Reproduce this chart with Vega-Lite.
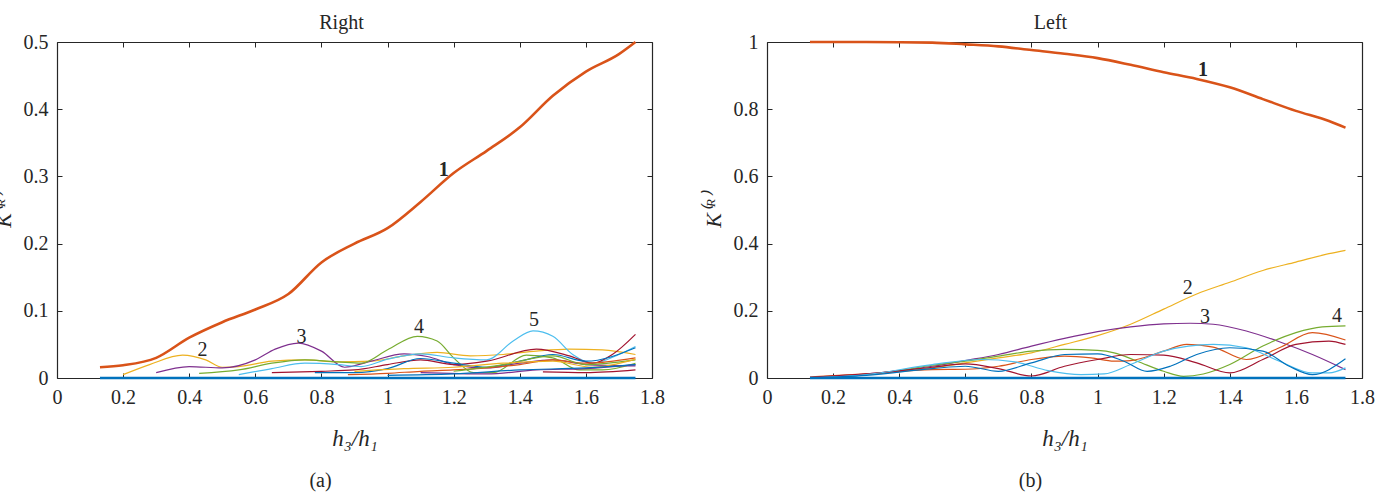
{
  "$schema": "https://vega.github.io/schema/vega-lite/v6.json",
  "autosize": {"type": "none"},
  "padding": {"left": 57, "top": 42, "right": 0, "bottom": 114},
  "params": [{"name": "width", "value": 1322}],
  "background": "white",
  "spacing": 115,
  "bounds": "flush",
  "config": {
    "font": "Liberation Serif",
    "view": {"stroke": null},
    "axis": {
      "grid": false,
      "domainColor": "#262626",
      "domainWidth": 1.2,
      "tickColor": "#262626",
      "tickWidth": 1,
      "tickSize": -5,
      "labelFont": "Liberation Serif",
      "labelFontSize": 20,
      "labelColor": "#262626",
      "labelPadding": 14,
      "labelFlush": false,
      "titleFont": "Liberation Serif",
      "titleFontSize": 20,
      "titleFontWeight": "normal",
      "titleColor": "#262626"
    },
    "title": {"font": "Liberation Serif", "fontSize": 20, "fontWeight": "normal", "color": "#262626"}
  },
  "datasets": {
    "lines": [
      {"p":"a","s":"zero","x":0.13,"y":0},{"p":"a","s":"zero","x":1.75,"y":0},
      {"p":"a","s":"1","x":0.13,"y":0.016},{"p":"a","s":"1","x":0.2,"y":0.019},{"p":"a","s":"1","x":0.3,"y":0.03},{"p":"a","s":"1","x":0.4,"y":0.06},{"p":"a","s":"1","x":0.5,"y":0.083},{"p":"a","s":"1","x":0.6,"y":0.102},{"p":"a","s":"1","x":0.7,"y":0.125},{"p":"a","s":"1","x":0.8,"y":0.172},{"p":"a","s":"1","x":0.9,"y":0.2},{"p":"a","s":"1","x":1.0,"y":0.223},{"p":"a","s":"1","x":1.1,"y":0.262},{"p":"a","s":"1","x":1.2,"y":0.305},{"p":"a","s":"1","x":1.3,"y":0.338},{"p":"a","s":"1","x":1.4,"y":0.373},{"p":"a","s":"1","x":1.5,"y":0.42},{"p":"a","s":"1","x":1.6,"y":0.456},{"p":"a","s":"1","x":1.7,"y":0.482},{"p":"a","s":"1","x":1.75,"y":0.5},
      {"p":"a","s":"2","x":0.2,"y":0.005},{"p":"a","s":"2","x":0.28,"y":0.02},{"p":"a","s":"2","x":0.38,"y":0.034},{"p":"a","s":"2","x":0.45,"y":0.027},{"p":"a","s":"2","x":0.5,"y":0.016},{"p":"a","s":"2","x":0.55,"y":0.017},{"p":"a","s":"2","x":0.65,"y":0.025},{"p":"a","s":"2","x":0.75,"y":0.027},{"p":"a","s":"2","x":0.85,"y":0.024},{"p":"a","s":"2","x":0.95,"y":0.025},{"p":"a","s":"2","x":1.05,"y":0.033},{"p":"a","s":"2","x":1.15,"y":0.038},{"p":"a","s":"2","x":1.25,"y":0.033},{"p":"a","s":"2","x":1.35,"y":0.035},{"p":"a","s":"2","x":1.45,"y":0.04},{"p":"a","s":"2","x":1.55,"y":0.043},{"p":"a","s":"2","x":1.65,"y":0.042},{"p":"a","s":"2","x":1.75,"y":0.035},
      {"p":"a","s":"3","x":0.3,"y":0.008},{"p":"a","s":"3","x":0.4,"y":0.017},{"p":"a","s":"3","x":0.5,"y":0.015},{"p":"a","s":"3","x":0.6,"y":0.027},{"p":"a","s":"3","x":0.66,"y":0.043},{"p":"a","s":"3","x":0.73,"y":0.052},{"p":"a","s":"3","x":0.8,"y":0.04},{"p":"a","s":"3","x":0.87,"y":0.016},{"p":"a","s":"3","x":0.95,"y":0.025},{"p":"a","s":"3","x":1.05,"y":0.036},{"p":"a","s":"3","x":1.12,"y":0.032},{"p":"a","s":"3","x":1.2,"y":0.02},{"p":"a","s":"3","x":1.3,"y":0.015},{"p":"a","s":"3","x":1.4,"y":0.022},{"p":"a","s":"3","x":1.5,"y":0.027},{"p":"a","s":"3","x":1.6,"y":0.02},{"p":"a","s":"3","x":1.75,"y":0.018},
      {"p":"a","s":"4","x":0.43,"y":0.007},{"p":"a","s":"4","x":0.55,"y":0.012},{"p":"a","s":"4","x":0.65,"y":0.022},{"p":"a","s":"4","x":0.75,"y":0.027},{"p":"a","s":"4","x":0.85,"y":0.024},{"p":"a","s":"4","x":0.92,"y":0.022},{"p":"a","s":"4","x":1.0,"y":0.042},{"p":"a","s":"4","x":1.09,"y":0.062},{"p":"a","s":"4","x":1.15,"y":0.055},{"p":"a","s":"4","x":1.2,"y":0.03},{"p":"a","s":"4","x":1.26,"y":0.008},{"p":"a","s":"4","x":1.32,"y":0.008},{"p":"a","s":"4","x":1.42,"y":0.034},{"p":"a","s":"4","x":1.5,"y":0.03},{"p":"a","s":"4","x":1.58,"y":0.012},{"p":"a","s":"4","x":1.65,"y":0.012},{"p":"a","s":"4","x":1.75,"y":0.022},
      {"p":"a","s":"5","x":0.55,"y":0.005},{"p":"a","s":"5","x":0.65,"y":0.014},{"p":"a","s":"5","x":0.75,"y":0.022},{"p":"a","s":"5","x":0.85,"y":0.02},{"p":"a","s":"5","x":0.92,"y":0.017},{"p":"a","s":"5","x":1.0,"y":0.028},{"p":"a","s":"5","x":1.1,"y":0.036},{"p":"a","s":"5","x":1.2,"y":0.03},{"p":"a","s":"5","x":1.3,"y":0.027},{"p":"a","s":"5","x":1.38,"y":0.055},{"p":"a","s":"5","x":1.44,"y":0.07},{"p":"a","s":"5","x":1.5,"y":0.062},{"p":"a","s":"5","x":1.56,"y":0.035},{"p":"a","s":"5","x":1.62,"y":0.022},{"p":"a","s":"5","x":1.7,"y":0.035},{"p":"a","s":"5","x":1.75,"y":0.047},
      {"p":"a","s":"dred","x":0.65,"y":0.008},{"p":"a","s":"dred","x":0.8,"y":0.01},{"p":"a","s":"dred","x":0.9,"y":0.012},{"p":"a","s":"dred","x":1.0,"y":0.02},{"p":"a","s":"dred","x":1.1,"y":0.027},{"p":"a","s":"dred","x":1.2,"y":0.02},{"p":"a","s":"dred","x":1.3,"y":0.025},{"p":"a","s":"dred","x":1.45,"y":0.043},{"p":"a","s":"dred","x":1.55,"y":0.033},{"p":"a","s":"dred","x":1.62,"y":0.022},{"p":"a","s":"dred","x":1.68,"y":0.035},{"p":"a","s":"dred","x":1.75,"y":0.065},
      {"p":"a","s":"blue","x":0.78,"y":0.008},{"p":"a","s":"blue","x":0.9,"y":0.008},{"p":"a","s":"blue","x":1.0,"y":0.014},{"p":"a","s":"blue","x":1.1,"y":0.029},{"p":"a","s":"blue","x":1.2,"y":0.022},{"p":"a","s":"blue","x":1.3,"y":0.016},{"p":"a","s":"blue","x":1.4,"y":0.025},{"p":"a","s":"blue","x":1.5,"y":0.035},{"p":"a","s":"blue","x":1.6,"y":0.025},{"p":"a","s":"blue","x":1.75,"y":0.045},
      {"p":"a","s":"orange","x":0.88,"y":0.005},{"p":"a","s":"orange","x":1.0,"y":0.007},{"p":"a","s":"orange","x":1.1,"y":0.01},{"p":"a","s":"orange","x":1.2,"y":0.012},{"p":"a","s":"orange","x":1.3,"y":0.015},{"p":"a","s":"orange","x":1.4,"y":0.02},{"p":"a","s":"orange","x":1.5,"y":0.027},{"p":"a","s":"orange","x":1.6,"y":0.022},{"p":"a","s":"orange","x":1.75,"y":0.03},
      {"p":"a","s":"dred2","x":1.47,"y":0.009},{"p":"a","s":"dred2","x":1.6,"y":0.008},{"p":"a","s":"dred2","x":1.75,"y":0.012},
      {"p":"a","s":"purple2","x":1.1,"y":0.008},{"p":"a","s":"purple2","x":1.3,"y":0.006},{"p":"a","s":"purple2","x":1.45,"y":0.012},{"p":"a","s":"purple2","x":1.6,"y":0.014},{"p":"a","s":"purple2","x":1.75,"y":0.02},
      {"p":"a","s":"green2","x":1.2,"y":0.01},{"p":"a","s":"green2","x":1.35,"y":0.02},{"p":"a","s":"green2","x":1.5,"y":0.033},{"p":"a","s":"green2","x":1.6,"y":0.02},{"p":"a","s":"green2","x":1.75,"y":0.027},
      {"p":"a","s":"yellow2","x":0.9,"y":0.01},{"p":"a","s":"yellow2","x":1.05,"y":0.014},{"p":"a","s":"yellow2","x":1.2,"y":0.016},{"p":"a","s":"yellow2","x":1.35,"y":0.022},{"p":"a","s":"yellow2","x":1.5,"y":0.025},{"p":"a","s":"yellow2","x":1.62,"y":0.016},{"p":"a","s":"yellow2","x":1.75,"y":0.028},
      {"p":"a","s":"blue2","x":1.0,"y":0.004},{"p":"a","s":"blue2","x":1.2,"y":0.006},{"p":"a","s":"blue2","x":1.4,"y":0.012},{"p":"a","s":"blue2","x":1.6,"y":0.015},{"p":"a","s":"blue2","x":1.75,"y":0.02},

      {"p":"b","s":"zero","x":0.13,"y":0},{"p":"b","s":"zero","x":1.75,"y":0},
      {"p":"b","s":"1","x":0.13,"y":1.0},{"p":"b","s":"1","x":0.3,"y":1.0},{"p":"b","s":"1","x":0.5,"y":0.998},{"p":"b","s":"1","x":0.6,"y":0.993},{"p":"b","s":"1","x":0.7,"y":0.987},{"p":"b","s":"1","x":0.8,"y":0.976},{"p":"b","s":"1","x":0.9,"y":0.965},{"p":"b","s":"1","x":1.0,"y":0.952},{"p":"b","s":"1","x":1.1,"y":0.932},{"p":"b","s":"1","x":1.2,"y":0.91},{"p":"b","s":"1","x":1.3,"y":0.89},{"p":"b","s":"1","x":1.4,"y":0.865},{"p":"b","s":"1","x":1.5,"y":0.83},{"p":"b","s":"1","x":1.6,"y":0.795},{"p":"b","s":"1","x":1.7,"y":0.765},{"p":"b","s":"1","x":1.75,"y":0.745},
      {"p":"b","s":"2","x":0.13,"y":0.0},{"p":"b","s":"2","x":0.3,"y":0.01},{"p":"b","s":"2","x":0.4,"y":0.02},{"p":"b","s":"2","x":0.5,"y":0.03},{"p":"b","s":"2","x":0.6,"y":0.045},{"p":"b","s":"2","x":0.7,"y":0.06},{"p":"b","s":"2","x":0.8,"y":0.075},{"p":"b","s":"2","x":0.9,"y":0.1},{"p":"b","s":"2","x":1.0,"y":0.126},{"p":"b","s":"2","x":1.1,"y":0.16},{"p":"b","s":"2","x":1.2,"y":0.205},{"p":"b","s":"2","x":1.3,"y":0.25},{"p":"b","s":"2","x":1.4,"y":0.285},{"p":"b","s":"2","x":1.5,"y":0.32},{"p":"b","s":"2","x":1.6,"y":0.345},{"p":"b","s":"2","x":1.7,"y":0.37},{"p":"b","s":"2","x":1.75,"y":0.38},
      {"p":"b","s":"3","x":0.13,"y":0.0},{"p":"b","s":"3","x":0.3,"y":0.012},{"p":"b","s":"3","x":0.4,"y":0.022},{"p":"b","s":"3","x":0.5,"y":0.035},{"p":"b","s":"3","x":0.6,"y":0.052},{"p":"b","s":"3","x":0.7,"y":0.07},{"p":"b","s":"3","x":0.8,"y":0.095},{"p":"b","s":"3","x":0.9,"y":0.118},{"p":"b","s":"3","x":1.0,"y":0.138},{"p":"b","s":"3","x":1.1,"y":0.152},{"p":"b","s":"3","x":1.2,"y":0.161},{"p":"b","s":"3","x":1.28,"y":0.163},{"p":"b","s":"3","x":1.35,"y":0.16},{"p":"b","s":"3","x":1.45,"y":0.14},{"p":"b","s":"3","x":1.55,"y":0.108},{"p":"b","s":"3","x":1.65,"y":0.07},{"p":"b","s":"3","x":1.75,"y":0.025},
      {"p":"b","s":"4","x":0.13,"y":0.0},{"p":"b","s":"4","x":0.3,"y":0.01},{"p":"b","s":"4","x":0.4,"y":0.022},{"p":"b","s":"4","x":0.5,"y":0.038},{"p":"b","s":"4","x":0.6,"y":0.05},{"p":"b","s":"4","x":0.7,"y":0.065},{"p":"b","s":"4","x":0.8,"y":0.08},{"p":"b","s":"4","x":0.9,"y":0.085},{"p":"b","s":"4","x":1.0,"y":0.082},{"p":"b","s":"4","x":1.05,"y":0.075},{"p":"b","s":"4","x":1.12,"y":0.05},{"p":"b","s":"4","x":1.2,"y":0.02},{"p":"b","s":"4","x":1.26,"y":0.005},{"p":"b","s":"4","x":1.32,"y":0.012},{"p":"b","s":"4","x":1.4,"y":0.04},{"p":"b","s":"4","x":1.5,"y":0.095},{"p":"b","s":"4","x":1.6,"y":0.135},{"p":"b","s":"4","x":1.68,"y":0.152},{"p":"b","s":"4","x":1.75,"y":0.155},
      {"p":"b","s":"red","x":0.13,"y":0.003},{"p":"b","s":"red","x":0.3,"y":0.012},{"p":"b","s":"red","x":0.5,"y":0.025},{"p":"b","s":"red","x":0.6,"y":0.026},{"p":"b","s":"red","x":0.7,"y":0.035},{"p":"b","s":"red","x":0.8,"y":0.055},{"p":"b","s":"red","x":0.9,"y":0.065},{"p":"b","s":"red","x":0.98,"y":0.06},{"p":"b","s":"red","x":1.05,"y":0.05},{"p":"b","s":"red","x":1.1,"y":0.052},{"p":"b","s":"red","x":1.2,"y":0.08},{"p":"b","s":"red","x":1.27,"y":0.1},{"p":"b","s":"red","x":1.35,"y":0.092},{"p":"b","s":"red","x":1.45,"y":0.055},{"p":"b","s":"red","x":1.55,"y":0.09},{"p":"b","s":"red","x":1.65,"y":0.135},{"p":"b","s":"red","x":1.75,"y":0.113},
      {"p":"b","s":"dred","x":0.13,"y":0.002},{"p":"b","s":"dred","x":0.3,"y":0.012},{"p":"b","s":"dred","x":0.5,"y":0.032},{"p":"b","s":"dred","x":0.6,"y":0.042},{"p":"b","s":"dred","x":0.7,"y":0.028},{"p":"b","s":"dred","x":0.8,"y":0.006},{"p":"b","s":"dred","x":0.9,"y":0.035},{"p":"b","s":"dred","x":1.0,"y":0.055},{"p":"b","s":"dred","x":1.1,"y":0.07},{"p":"b","s":"dred","x":1.2,"y":0.068},{"p":"b","s":"dred","x":1.3,"y":0.045},{"p":"b","s":"dred","x":1.4,"y":0.015},{"p":"b","s":"dred","x":1.5,"y":0.055},{"p":"b","s":"dred","x":1.6,"y":0.1},{"p":"b","s":"dred","x":1.7,"y":0.11},{"p":"b","s":"dred","x":1.75,"y":0.1},
      {"p":"b","s":"cyan","x":0.13,"y":0.0},{"p":"b","s":"cyan","x":0.3,"y":0.01},{"p":"b","s":"cyan","x":0.5,"y":0.04},{"p":"b","s":"cyan","x":0.65,"y":0.055},{"p":"b","s":"cyan","x":0.75,"y":0.048},{"p":"b","s":"cyan","x":0.85,"y":0.022},{"p":"b","s":"cyan","x":0.95,"y":0.01},{"p":"b","s":"cyan","x":1.02,"y":0.012},{"p":"b","s":"cyan","x":1.1,"y":0.04},{"p":"b","s":"cyan","x":1.2,"y":0.08},{"p":"b","s":"cyan","x":1.35,"y":0.1},{"p":"b","s":"cyan","x":1.45,"y":0.09},{"p":"b","s":"cyan","x":1.55,"y":0.05},{"p":"b","s":"cyan","x":1.65,"y":0.015},{"p":"b","s":"cyan","x":1.7,"y":0.015},{"p":"b","s":"cyan","x":1.75,"y":0.03},
      {"p":"b","s":"blue","x":0.13,"y":0.0},{"p":"b","s":"blue","x":0.3,"y":0.008},{"p":"b","s":"blue","x":0.5,"y":0.028},{"p":"b","s":"blue","x":0.6,"y":0.035},{"p":"b","s":"blue","x":0.7,"y":0.02},{"p":"b","s":"blue","x":0.8,"y":0.045},{"p":"b","s":"blue","x":0.9,"y":0.07},{"p":"b","s":"blue","x":1.0,"y":0.072},{"p":"b","s":"blue","x":1.08,"y":0.05},{"p":"b","s":"blue","x":1.15,"y":0.02},{"p":"b","s":"blue","x":1.22,"y":0.035},{"p":"b","s":"blue","x":1.3,"y":0.07},{"p":"b","s":"blue","x":1.4,"y":0.09},{"p":"b","s":"blue","x":1.5,"y":0.08},{"p":"b","s":"blue","x":1.58,"y":0.035},{"p":"b","s":"blue","x":1.65,"y":0.01},{"p":"b","s":"blue","x":1.75,"y":0.057}
    ],
    "labels": [
      {"p":"a","t":"1","x":1.17,"y":0.31},
      {"p":"a","t":"2","x":0.44,"y":0.042},
      {"p":"a","t":"3","x":0.74,"y":0.061},
      {"p":"a","t":"4","x":1.095,"y":0.076},
      {"p":"a","t":"5","x":1.443,"y":0.086},
      {"p":"b","t":"1","x":1.319,"y":0.917},
      {"p":"b","t":"2","x":1.273,"y":0.268},
      {"p":"b","t":"3","x":1.325,"y":0.182},
      {"p":"b","t":"4","x":1.724,"y":0.185}
    ]
  },
  "hconcat": [
    {
      "width": 595,
      "height": 336,
      "title": {"text": "(a)", "orient": "bottom", "anchor": "middle", "frame": "group", "dx": -34, "offset": 21},
      "layer": [
        {
          "data": {"name": "lines"},
          "transform": [{"filter": "datum.p == 'a' && datum.s != '1' && datum.s != 'zero'"}],
          "mark": {"type": "line", "interpolate": "monotone", "strokeWidth": 1.2},
          "encoding": {
            "x": {"field": "x", "type": "quantitative", "scale": {"domain": [0, 1.8]},
                  "axis": {"orient": "bottom", "values": [0,0.2,0.4,0.6,0.8,1,1.2,1.4,1.6,1.8], "format": ".1~f",
                           "title": "h₃/h₁", "titleFontStyle": "italic", "titleFontSize": 23, "titleX": 297.5, "titleY": 67, "titleBaseline": "alphabetic", "titleAlign": "center"}},
            "y": {"field": "y", "type": "quantitative", "scale": {"domain": [0, 0.5]},
                  "axis": {"orient": "left", "values": [0,0.1,0.2,0.3,0.4,0.5], "format": ".1~f",
                           "title": "K⁽ᴿ⁾", "titleFontStyle": "italic", "titleFontSize": 22, "titleX": -47, "titleY": 168, "titleAngle": -90, "titleBaseline": "alphabetic", "titleAlign": "center"}},
            "color": {"field": "s", "type": "nominal", "legend": null,
                      "scale": {"domain": ["zero","1","2","3","4","5","dred","blue","orange","dred2","purple2","green2","yellow2","blue2","red","cyan"],
                                "range": ["#0072BD","#D95319","#EDB120","#7E2F8E","#77AC30","#4DBEEE","#A2142F","#0072BD","#D95319","#A2142F","#7E2F8E","#77AC30","#EDB120","#0072BD","#D95319","#4DBEEE"]}}
          }
        },
        {
          "data": {"name": "lines"},
          "transform": [{"filter": "datum.p == 'a' && (datum.s == '1' || datum.s == 'zero')"}],
          "mark": {"type": "line", "interpolate": "monotone", "strokeWidth": 2.6},
          "encoding": {
            "x": {"field": "x", "type": "quantitative", "scale": {"domain": [0, 1.8]},
                  "axis": {"orient": "top", "labels": false, "values": [0,0.2,0.4,0.6,0.8,1,1.2,1.4,1.6,1.8],
                           "title": "Right", "titleX": 284, "titleY": -14, "titleBaseline": "alphabetic", "titleAlign": "center"}},
            "y": {"field": "y", "type": "quantitative", "scale": {"domain": [0, 0.5]},
                  "axis": {"orient": "right", "labels": false, "values": [0,0.1,0.2,0.3,0.4,0.5], "title": null}},
            "color": {"field": "s", "type": "nominal", "legend": null,
                      "scale": {"domain": ["zero","1","2","3","4","5","dred","blue","orange","dred2","purple2","green2","yellow2","blue2","red","cyan"],
                                "range": ["#0072BD","#D95319","#EDB120","#7E2F8E","#77AC30","#4DBEEE","#A2142F","#0072BD","#D95319","#A2142F","#7E2F8E","#77AC30","#EDB120","#0072BD","#D95319","#4DBEEE"]}}
          }
        },
        {
          "data": {"name": "labels"},
          "transform": [{"filter": "datum.p == 'a' && datum.t != '1'"}],
          "mark": {"type": "text", "font": "Liberation Serif", "fontSize": 20, "color": "#262626", "baseline": "middle", "align": "center"},
          "encoding": {
            "x": {"field": "x", "type": "quantitative", "axis": null},
            "y": {"field": "y", "type": "quantitative", "axis": null},
            "text": {"field": "t"}
          }
        },
        {
          "data": {"name": "labels"},
          "transform": [{"filter": "datum.p == 'a' && datum.t == '1'"}],
          "mark": {"type": "text", "font": "Liberation Serif", "fontSize": 20, "fontWeight": "bold", "color": "#262626", "baseline": "middle", "align": "center"},
          "encoding": {
            "x": {"field": "x", "type": "quantitative", "axis": null},
            "y": {"field": "y", "type": "quantitative", "axis": null},
            "text": {"field": "t"}
          }
        }
      ]
    },
    {
      "width": 595,
      "height": 336,
      "title": {"text": "(b)", "orient": "bottom", "anchor": "middle", "frame": "group", "dx": -34, "offset": 21},
      "layer": [
        {
          "data": {"name": "lines"},
          "transform": [{"filter": "datum.p == 'b' && datum.s != '1' && datum.s != 'zero'"}],
          "mark": {"type": "line", "interpolate": "monotone", "strokeWidth": 1.2},
          "encoding": {
            "x": {"field": "x", "type": "quantitative", "scale": {"domain": [0, 1.8]},
                  "axis": {"orient": "bottom", "values": [0,0.2,0.4,0.6,0.8,1,1.2,1.4,1.6,1.8], "format": ".1~f",
                           "title": "h₃/h₁", "titleFontStyle": "italic", "titleFontSize": 23, "titleX": 297.5, "titleY": 67, "titleBaseline": "alphabetic", "titleAlign": "center"}},
            "y": {"field": "y", "type": "quantitative", "scale": {"domain": [0, 1]},
                  "axis": {"orient": "left", "values": [0,0.2,0.4,0.6,0.8,1], "format": ".1~f",
                           "title": "K⁽ᴿ⁾", "titleFontStyle": "italic", "titleFontSize": 22, "titleX": -47, "titleY": 168, "titleAngle": -90, "titleBaseline": "alphabetic", "titleAlign": "center"}},
            "color": {"field": "s", "type": "nominal", "legend": null,
                      "scale": {"domain": ["zero","1","2","3","4","5","dred","blue","orange","dred2","purple2","green2","yellow2","blue2","red","cyan"],
                                "range": ["#0072BD","#D95319","#EDB120","#7E2F8E","#77AC30","#4DBEEE","#A2142F","#0072BD","#D95319","#A2142F","#7E2F8E","#77AC30","#EDB120","#0072BD","#D95319","#4DBEEE"]}}
          }
        },
        {
          "data": {"name": "lines"},
          "transform": [{"filter": "datum.p == 'b' && (datum.s == '1' || datum.s == 'zero')"}],
          "mark": {"type": "line", "interpolate": "monotone", "strokeWidth": 2.6},
          "encoding": {
            "x": {"field": "x", "type": "quantitative", "scale": {"domain": [0, 1.8]},
                  "axis": {"orient": "top", "labels": false, "values": [0,0.2,0.4,0.6,0.8,1,1.2,1.4,1.6,1.8],
                           "title": "Left", "titleX": 283, "titleY": -14, "titleBaseline": "alphabetic", "titleAlign": "center"}},
            "y": {"field": "y", "type": "quantitative", "scale": {"domain": [0, 1]},
                  "axis": {"orient": "right", "labels": false, "values": [0,0.2,0.4,0.6,0.8,1], "title": null}},
            "color": {"field": "s", "type": "nominal", "legend": null,
                      "scale": {"domain": ["zero","1","2","3","4","5","dred","blue","orange","dred2","purple2","green2","yellow2","blue2","red","cyan"],
                                "range": ["#0072BD","#D95319","#EDB120","#7E2F8E","#77AC30","#4DBEEE","#A2142F","#0072BD","#D95319","#A2142F","#7E2F8E","#77AC30","#EDB120","#0072BD","#D95319","#4DBEEE"]}}
          }
        },
        {
          "data": {"name": "labels"},
          "transform": [{"filter": "datum.p == 'b' && datum.t != '1'"}],
          "mark": {"type": "text", "font": "Liberation Serif", "fontSize": 20, "color": "#262626", "baseline": "middle", "align": "center"},
          "encoding": {
            "x": {"field": "x", "type": "quantitative", "axis": null},
            "y": {"field": "y", "type": "quantitative", "axis": null},
            "text": {"field": "t"}
          }
        },
        {
          "data": {"name": "labels"},
          "transform": [{"filter": "datum.p == 'b' && datum.t == '1'"}],
          "mark": {"type": "text", "font": "Liberation Serif", "fontSize": 20, "fontWeight": "bold", "color": "#262626", "baseline": "middle", "align": "center"},
          "encoding": {
            "x": {"field": "x", "type": "quantitative", "axis": null},
            "y": {"field": "y", "type": "quantitative", "axis": null},
            "text": {"field": "t"}
          }
        }
      ]
    }
  ]
}
